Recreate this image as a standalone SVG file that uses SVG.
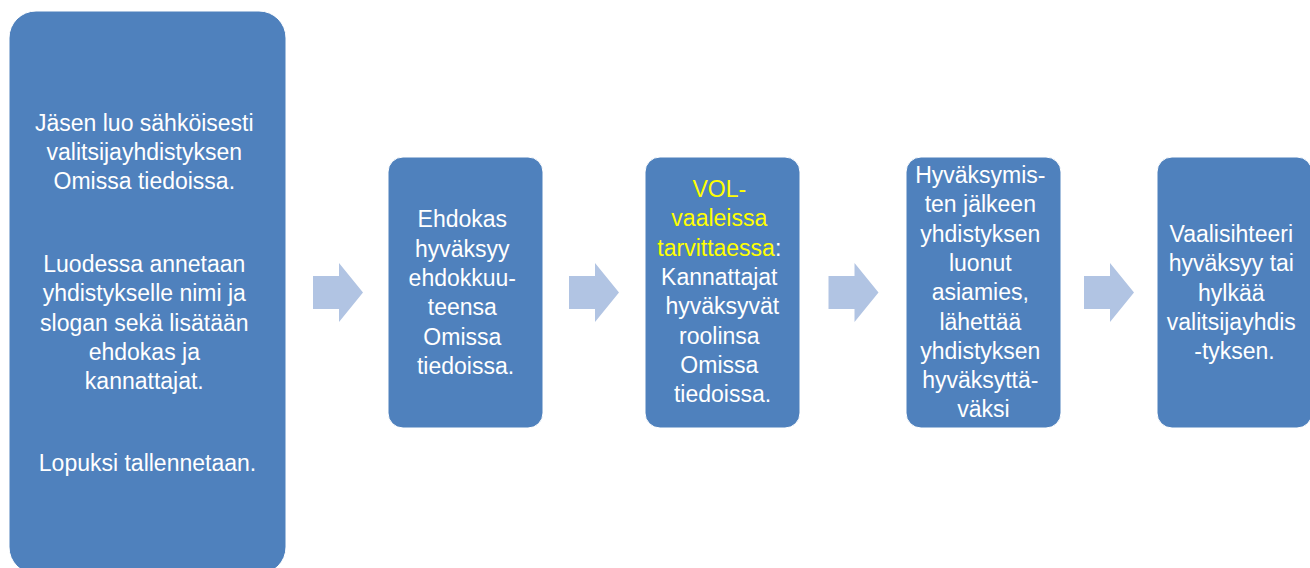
<svg xmlns="http://www.w3.org/2000/svg" width="1310" height="568" viewBox="0 0 1310 568">
<style>
.box{fill:#4F81BD;stroke:#ffffff;stroke-width:1}
.t{font-family:"Liberation Sans",Arial,sans-serif;font-size:23px;fill:#ffffff;text-anchor:middle}
.y{fill:#FFFF00}
.arr{fill:#B1C4E3}
</style>
<rect width="1310" height="568" fill="#ffffff"/>
<g id="node1">
<rect class="box" x="9" y="11" width="277" height="563" rx="27" ry="27"/>
<text class="t">
<tspan x="147.5" y="130.5">Jäsen luo sähköisesti</tspan>
<tspan x="147.5" y="159.8">valitsijayhdistyksen</tspan>
<tspan x="147.5" y="189.1">Omissa tiedoissa.</tspan>
<tspan x="147.5" y="272">Luodessa annetaan</tspan>
<tspan x="147.5" y="301.3">yhdistykselle nimi ja</tspan>
<tspan x="147.5" y="330.6">slogan sekä lisätään</tspan>
<tspan x="147.5" y="359.9">ehdokas ja</tspan>
<tspan x="147.5" y="389.2">kannattajat.</tspan>
<tspan x="147.5" y="471">Lopuksi tallennetaan.</tspan>
</text>
</g>
<g id="node2">
<rect class="box" x="388" y="157" width="155" height="271" rx="15" ry="15"/>
<text class="t">
<tspan x="465.5" y="227.3">Ehdokas</tspan>
<tspan x="465.5" y="256.6">hyväksyy</tspan>
<tspan x="465.5" y="285.9">ehdokkuu-</tspan>
<tspan x="465.5" y="315.2">teensa</tspan>
<tspan x="465.5" y="344.5">Omissa</tspan>
<tspan x="465.5" y="373.8">tiedoissa.</tspan>
</text>
</g>
<g id="node3">
<rect class="box" x="645" y="157" width="155" height="271" rx="15" ry="15"/>
<text class="t">
<tspan x="722.5" y="197.1" class="y">VOL-</tspan>
<tspan x="722.5" y="226.4" class="y">vaaleissa</tspan>
<tspan x="722.5" y="255.7"><tspan class="y">tarvittaessa</tspan>:</tspan>
<tspan x="722.5" y="285">Kannattajat</tspan>
<tspan x="725.5" y="314.3">hyväksyvät</tspan>
<tspan x="722.5" y="343.6">roolinsa</tspan>
<tspan x="722.5" y="372.9">Omissa</tspan>
<tspan x="722.5" y="402.2">tiedoissa.</tspan>
</text>
</g>
<g id="node4">
<rect class="box" x="906" y="157" width="155" height="271" rx="15" ry="15"/>
<text class="t">
<tspan x="983.5" y="183">Hyväksymis-</tspan>
<tspan x="983.5" y="212.3">ten jälkeen</tspan>
<tspan x="983.5" y="241.6">yhdistyksen</tspan>
<tspan x="983.5" y="270.9">luonut</tspan>
<tspan x="983.5" y="300.2">asiamies,</tspan>
<tspan x="983.5" y="329.5">lähettää</tspan>
<tspan x="983.5" y="358.8">yhdistyksen</tspan>
<tspan x="983.5" y="388.1">hyväksyttä-</tspan>
<tspan x="983.5" y="417.4">väksi</tspan>
</text>
</g>
<g id="node5">
<rect class="box" x="1157" y="157" width="155" height="271" rx="15" ry="15"/>
<text class="t">
<tspan x="1234.5" y="241.9">Vaalisihteeri</tspan>
<tspan x="1234.5" y="271.2">hyväksyy tai</tspan>
<tspan x="1234.5" y="300.5">hylkää</tspan>
<tspan x="1234.5" y="329.8">valitsijayhdis</tspan>
<tspan x="1234.5" y="359.1">-tyksen.</tspan>
</text>
</g>
<g id="connectors">
<polygon class="arr" points="313,276 339,276 339,263 363,292.5 339,322 339,309 313,309"/>
<polygon class="arr" points="569,276 595,276 595,263 619,292.5 595,322 595,309 569,309"/>
<polygon class="arr" points="828.5,276 854.5,276 854.5,263 878.5,292.5 854.5,322 854.5,309 828.5,309"/>
<polygon class="arr" points="1084,276 1110,276 1110,263 1134,292.5 1110,322 1110,309 1084,309"/>
</g>
</svg>
